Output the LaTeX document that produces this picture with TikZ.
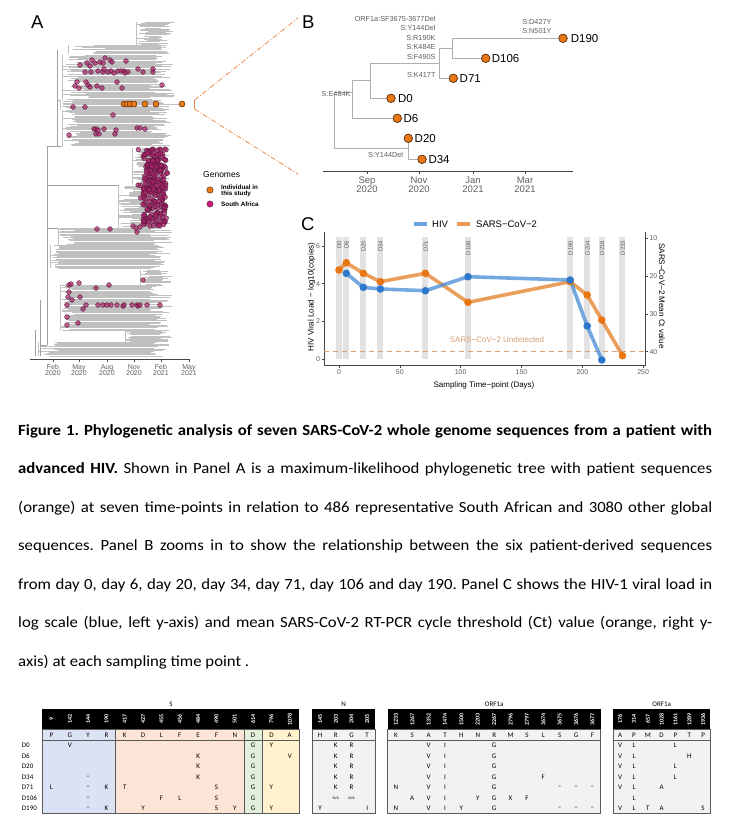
\documentclass[tikz,border=0pt]{standalone}
\usepackage{fontspec}
\setmainfont{Carlito}
\newfontfamily\arialf{Liberation Sans}
\newfontfamily\capfont[FakeStretch=1.08]{Carlito}
\usetikzlibrary{calc}
\definecolor{treegray}{RGB}{192,192,192}
\definecolor{backgray}{RGB}{160,160,160}
\definecolor{saf}{RGB}{165,35,105}
\definecolor{safdark}{RGB}{80,18,50}
\definecolor{pat}{RGB}{232,120,20}
\definecolor{patdark}{RGB}{95,50,15}
\definecolor{hivblue}{RGB}{70,140,215}
\definecolor{hivdot}{RGB}{45,120,205}
\definecolor{covor}{RGB}{228,128,40}
\definecolor{covdot}{RGB}{232,118,18}
\definecolor{undet}{RGB}{215,160,120}
\definecolor{bandgray}{RGB}{226,226,226}
\definecolor{sblue}{RGB}{219,226,243}
\definecolor{ssalmon}{RGB}{252,229,214}
\definecolor{sgreen}{RGB}{226,239,218}
\definecolor{syellow}{RGB}{255,242,204}
\definecolor{tgray}{RGB}{242,242,242}
\definecolor{axisgray}{RGB}{70,70,70}
\definecolor{labgray}{RGB}{95,95,95}
\definecolor{btreegray}{RGB}{175,175,175}
\definecolor{dashor}{RGB}{232,140,80}
\definecolor{tabline}{RGB}{90,90,90}

\newcommand{\treeblock}[6]{%
  \pgfmathtruncatemacro{\tbn}{(#2-#1)/1.15}%
  \foreach \tbi in {0,...,\tbn}{%
    \pgfmathsetmacro{\tby}{#1+\tbi*1.15}%
    \pgfmathsetmacro{\tbxs}{#3+(#4-#3)*rnd}%
    \pgfmathsetmacro{\tbxe}{#5+(#6-#5)*rnd}%
    \draw[treeline] (\tbxs,\tby) -- (\tbxe,\tby);
  }%
  \draw[treeline] (#3,#1) -- (#3,#2);%
}

\begin{document}
\frenchspacing
\begin{tikzpicture}[x=1pt,y=-1pt,
  treeline/.style={draw=treegray,line width=0.35pt},
  sadot/.style={circle,inner sep=0pt,minimum size=4.8pt,fill=saf,fill opacity=0.72,draw=safdark,draw opacity=0.85,line width=0.4pt},
  patdot/.style={circle,inner sep=0pt,minimum size=6pt,fill=pat,draw=patdark,line width=0.5pt},
  bdot/.style={circle,inner sep=0pt,minimum size=8.4pt,fill=pat,draw=patdark,line width=0.6pt},
  btree/.style={draw=btreegray,line width=0.9pt},
  mutlab/.style={font=\arialf\fontsize{7.3}{8}\selectfont,text=labgray,anchor=east,inner sep=0pt},
  dlab/.style={font=\arialf\fontsize{11.5}{12}\selectfont,anchor=west,inner sep=0pt},
  panel/.style={font=\arialf\fontsize{18.5}{19}\selectfont,anchor=base west,inner sep=0pt},
  ticklabA/.style={font=\arialf\fontsize{7}{7.2}\selectfont,text=labgray,align=center,inner sep=0pt},
  ticklabB/.style={font=\arialf\fontsize{9.5}{10}\selectfont,text=labgray,align=center,inner sep=0pt},
  ticklabC/.style={font=\arialf\fontsize{7}{8}\selectfont,text=labgray,inner sep=0pt},
  axlabC/.style={font=\arialf\fontsize{8}{9}\selectfont,inner sep=0pt},
  bandlab/.style={font=\arialf\fontsize{6}{7}\selectfont,text=labgray,rotate=90,anchor=east,inner sep=0pt},
  hivpt/.style={circle,inner sep=0pt,minimum size=7.6pt,fill=hivdot},
  covpt/.style={circle,inner sep=0pt,minimum size=7.6pt,fill=covdot},
  captxt/.style={anchor=base west,inner sep=0pt,font=\capfont\fontsize{15.5}{17}\selectfont},
  hdr/.style={font=\bfseries\fontsize{6}{6}\selectfont,text=white,rotate=90,inner sep=0pt},
  cell/.style={font=\fontsize{7}{8}\selectfont,inner sep=0pt},
  rowlab/.style={font=\fontsize{7}{8}\selectfont,anchor=west,inner sep=0pt},
  tabtitle/.style={font=\fontsize{7}{8}\selectfont,inner sep=0pt},
  tabborder/.style={draw=tabline,line width=0.8pt}
]
\useasboundingbox (0,0) rectangle (730,830);
\fill[white] (0,0) rectangle (730,830);

%%%%%%%%%%%%%%%% PANEL A
\node[panel] (pA) at (31,28.3) {A};
\pgfmathsetseed{11}
\treeblock{22}{45}{136}{150}{158}{175}
\treeblock{45}{54}{68}{110}{160}{172}
\treeblock{55}{100}{62}{90}{150}{175}
\treeblock{100}{110}{60}{75}{155}{172}
\treeblock{110}{146}{62}{80}{150}{172}
\treeblock{148}{185}{132}{145}{158}{170}
\treeblock{185}{228}{118}{140}{158}{170}
\treeblock{228}{245}{58}{75}{150}{172}
\treeblock{245}{268}{50}{60}{150}{170}
\treeblock{270}{285}{140}{150}{160}{172}
\treeblock{285}{330}{60}{75}{150}{172}
\treeblock{330}{342}{125}{132}{160}{172}
\treeblock{342}{356}{38}{60}{150}{170}
\draw[draw=backgray,line width=0.4pt] (57,50) -- (57,146) (47,146) -- (47,345) (40,300) -- (40,356) (35,330) -- (35,356)
  (47,146) -- (62,146) (47,228) -- (58,228) (47,185) -- (118,185) (57,100) -- (60,100) (40,345) -- (47,345);
\draw[draw=treegray,line width=0.5pt] (118,104) -- (182,104);

% South African dots
\foreach \dx/\dy [count=\k] in {80/65,87/63,90/66,92/60,95/63,100/62,105/58,110/60,112/62,126/61,103/63,85/72,91/72,98/71,103/72,104/69,108/72,111/71,114/73,118/71,121/71,124/71,125/73,128/72,138/69,143/72,153/69,153/72,
 77/82,75/86,79/88,86/82,88/85,90/87,97/86,102/88,117/82,122/88,162/85,
 73/107,85/107,113/115,
 94/129,96/129,98/130,104/129,116/130,137/128,140/128,145/129,69/135,96/134,99/134,115/134,
 97/229,110/229,133/226,136/228,140/227,137/232,145/224,150/226,158/224,165/222,
 69/285,71/284,79/283,96/288,109/285,143/280,69/292,68/297,72/300,80/297,67/305,86/305,83/309,98/305,103/305,107/305,111/305,117/305,123/306,124/305,132/305,137/305,138/306,140/305,147/305,160/305,67/317,78/323,67/325}
  {\node[sadot] (saS\k) at (\dx,\dy) {};}
\foreach \k in {1,...,200}{
  \pgfmathsetmacro{\mx}{143+23*rnd}
  \pgfmathsetmacro{\my}{149+77*rnd}
  \node[sadot] (saD\k) at (\mx,\my) {};
}
\foreach \k in {1,...,30}{
  \pgfmathsetmacro{\mx}{137+32*rnd}
  \pgfmathsetmacro{\my}{148+80*rnd}
  \node[sadot] (saE\k) at (\mx,\my) {};
}
% patient dots
\foreach \px [count=\k] in {124,127,130,134,145,156,182}
  {\node[patdot] (paA\k) at (\px,104) {};}
% axis A
\draw[draw=axisgray,line width=0.8pt] (30,359) -- (190,359);
\foreach \tx/\tl/\ty [count=\k] in {53/Feb/2020,79/May/2020,107/Aug/2020,134/Nov/2020,161/Feb/2021,189/May/2021}{
  \draw[draw=axisgray,line width=0.6pt] (\tx,359) -- (\tx,361.5);
  \node[ticklabA] (tA\k) at (\tx,370) {\tl\\[-1.2pt]\ty};
}
% legend A
\node[font=\arialf\fontsize{8.5}{9}\selectfont,anchor=west,inner sep=0pt] (legA) at (203,175) {Genomes};
\node[patdot,minimum size=6.4pt] (legO) at (210,190) {};
\node[font=\arialf\bfseries\fontsize{6.3}{7}\selectfont,anchor=west,inner sep=0pt,align=left] (legOt) at (221,190.5) {Individual in\\[-0.8pt]this study};
\node[sadot,minimum size=6.4pt,fill opacity=1,fill={rgb,255:red,200;green,30;blue,125}] (legM) at (210,204) {};
\node[font=\arialf\bfseries\fontsize{6.3}{7}\selectfont,anchor=west,inner sep=0pt] (legMt) at (221,204) {South Africa};
% zoom connectors
\coordinate (zA) at (194.5,100);
\coordinate (zB) at (194.5,109);
\coordinate (zC) at (298,18);
\coordinate (zD) at (298,174);
\draw[draw=dashor,line width=1.6pt] (zA) -- (zB);
\draw[draw=dashor,line width=0.8pt,dash pattern=on 5pt off 2pt on 1pt off 2pt] (zA) -- (zC);
\draw[draw=dashor,line width=0.8pt,dash pattern=on 5pt off 2pt on 1pt off 2pt] (zB) -- (zD);

%%%%%%%%%%%%%%%% PANEL B
\node[panel] (pB) at (302,28.3) {B};
\coordinate (rt) at (334.3,120);
\coordinate (n1) at (352.3,92.7);
\coordinate (n2) at (370.7,80);
\coordinate (n3) at (439.3,63.3);
\coordinate (n4) at (452.7,48.3);
\coordinate (n5) at (408.3,148.3);
\node[bdot] (D190) at (563,38.3) {};
\node[bdot] (D106) at (485.7,58.3) {};
\node[bdot] (D71) at (453.3,78.3) {};
\node[bdot] (D0) at (391,98.3) {};
\node[bdot] (D6) at (397.3,118.3) {};
\node[bdot] (D20) at (408.3,138.3) {};
\node[bdot] (D34) at (422,159.3) {};
\draw[btree] (rt) |- (n1) (rt) |- (n5)
  (n1) |- (n2) (n1) |- (D6)
  (n2) |- (n3) (n2) |- (D0)
  (n3) |- (n4) (n3) |- (D71)
  (n4) |- (D190) (n4) |- (D106)
  (n5) -- (D20) (n5) |- (D34);
\foreach \nd in {D190,D106,D71,D0,D6,D20,D34}{\node[bdot] at (\nd) {};}
\node[dlab] (lD190) at (570.7,38.8) {D190};
\node[dlab] (lD106) at (491.7,58.8) {D106};
\node[dlab] (lD71) at (459.5,78.8) {D71};
\node[dlab] (lD0) at (397.8,98.8) {D0};
\node[dlab] (lD6) at (403.3,118.8) {D6};
\node[dlab] (lD20) at (414.5,138.8) {D20};
\node[dlab] (lD34) at (428.3,159.8) {D34};
\node[mutlab] (m1) at (435.7,19) {ORF1a:SF3675-3677Del};
\node[mutlab] (m2) at (435.7,28.3) {S:Y144Del};
\node[mutlab] (m3) at (435.7,37.8) {S:R190K};
\node[mutlab] (m4) at (435.7,47.3) {S:K484E};
\node[mutlab] (m5) at (435.7,56.7) {S:F490S};
\node[mutlab] (m6) at (435.7,75) {S:K417T};
\node[mutlab] (m7) at (350.7,94.3) {S:E484K};
\node[mutlab] (m8) at (551.7,21.7) {S:D427Y};
\node[mutlab] (m9) at (551.7,31) {S:N501Y};
\node[mutlab] (m10) at (403.3,155.3) {S:Y144Del};
\draw[draw=axisgray,line width=1pt] (323,171) -- (573,171);
\foreach \tx/\tl/\ty [count=\k] in {367/Sep/2020,419/Nov/2020,473/Jan/2021,525/Mar/2021}{
  \draw[draw=axisgray,line width=0.8pt] (\tx,171) -- (\tx,174);
  \node[ticklabB] (tB\k) at (\tx,185) {\tl\\[-1pt]\ty};
}

%%%%%%%%%%%%%%%% PANEL C
\node[panel] (pC) at (301,230) {C};
\draw[draw=hivblue,line width=3.8pt,opacity=0.8] (414,224) -- (427,224);
\node[font=\arialf\fontsize{9.5}{10}\selectfont,anchor=west,inner sep=0pt] (legH) at (432,224) {HIV};
\draw[draw=covor,line width=3.8pt,opacity=0.8] (456.7,224) -- (470,224);
\node[font=\arialf\fontsize{9.5}{10}\selectfont,anchor=west,inner sep=0pt] (legS) at (476,224) {SARS−CoV−2};
% bands
\foreach \dd/\dl [count=\k] in {0/D0,6/D6,20/D20,34/D34,71/D71,106/D106,190/D190,204/D204,216/D216,233/D233}{
  \fill[bandgray] ({339+1.2167*\dd-3},236.7) rectangle ({339+1.2167*\dd+3},359);
  \node[bandlab] (bl\k) at ({339+1.2167*\dd+0.3},240.5) {\dl};
}
% axes
\draw[draw=axisgray,line width=0.7pt] (324.3,231.7) -- (324.3,365) -- (645,365) -- (645,231.7);
\foreach \v/\yy in {0/359,2/321.3,4/283.7,6/246}{
  \draw[draw=axisgray,line width=0.6pt] (321.8,\yy) -- (324.3,\yy);
  \node[ticklabC,anchor=east] (yl\v) at (320.2,\yy) {\v};
}
\foreach \v/\yy in {10/238.3,20/276.1,30/313.9,40/351.7}{
  \draw[draw=axisgray,line width=0.6pt] (645,\yy) -- (647.5,\yy);
  \node[ticklabC,anchor=west] (yr\v) at (649.3,\yy) {\v};
}
\foreach \v in {0,50,100,150,200,250}{
  \draw[draw=axisgray,line width=0.6pt] ({339+1.2167*\v},365) -- ({339+1.2167*\v},367.5);
  \node[ticklabC] (xl\v) at ({339+1.2167*\v},372.5) {\v};
}
\node[axlabC] (xlab) at (484,385) {Sampling Time−point (Days)};
\node[axlabC,rotate=90] (ylabL) at (311.5,297) {HIV Viral Load − log10(copies)};
\node[axlabC,rotate=-90] (ylabR) at (662,296) {SARS−CoV−2 Mean Ct value};
% undetected
\coordinate (u1) at (324.3,351.3);
\coordinate (u2) at (645,351.3);
\draw[draw=undet,line width=0.8pt,dash pattern=on 5pt off 4pt] (u1) -- (u2);
\node[font=\arialf\fontsize{8}{9}\selectfont,text=undet,inner sep=0pt] (undl) at (497,340) {SARS−CoV−2 Undetected};
% data
\coordinate (h1) at (346.3,273.3);
\coordinate (h2) at (363.3,287.3);
\coordinate (h3) at (380.4,289);
\coordinate (h4) at (425.4,290.7);
\coordinate (h5) at (468,276.7);
\coordinate (h6) at (570.2,280);
\coordinate (h7) at (587.2,326);
\coordinate (h8) at (601.8,360);
\coordinate (c1) at (339,270);
\coordinate (c2) at (346.3,262.7);
\coordinate (c3) at (363.3,273.3);
\coordinate (c4) at (380.4,281.7);
\coordinate (c5) at (425.4,273.3);
\coordinate (c6) at (468,302.3);
\coordinate (c7) at (570.2,281.7);
\coordinate (c8) at (587.2,295);
\coordinate (c9) at (601.8,320);
\coordinate (c10) at (622.5,355.7);
\draw[draw=covor,line width=3.6pt,opacity=0.75,line join=round] (c1) -- (c2) -- (c3) -- (c4) -- (c5) -- (c6) -- (c7) -- (c8) -- (c9) -- (c10);
\draw[draw=hivblue,line width=3.6pt,opacity=0.75,line join=round] (h1) -- (h2) -- (h3) -- (h4) -- (h5) -- (h6) -- (h7) -- (h8);
\foreach \k in {1,...,10}{\node[covpt] (cp\k) at (c\k) {};}
\foreach \k in {1,...,8}{\node[hivpt] (hp\k) at (h\k) {};}

%%%%%%%%%%%%%%%% CAPTION
\node[captxt] (cap1) at (18,435) {\makebox[694pt][s]{\bfseries Figure 1. Phylogenetic analysis of seven SARS-CoV-2 whole genome sequences from a patient with}};
\node[captxt] (cap2) at (18,473.5) {\makebox[694pt][s]{\textbf{advanced HIV.} Shown in Panel A is a maximum-likelihood phylogenetic tree with patient sequences}};
\node[captxt] (cap3) at (18,512) {\makebox[694pt][s]{(orange) at seven time-points in relation to 486 representative South African and 3080 other global}};
\node[captxt] (cap4) at (18,550.5) {\makebox[694pt][s]{sequences. Panel B zooms in to show the relationship between the six patient-derived sequences}};
\node[captxt] (cap5) at (18,589) {\makebox[694pt][s]{from day 0, day 6, day 20, day 34, day 71, day 106 and day 190. Panel C shows the HIV-1 viral load in}};
\node[captxt] (cap6) at (18,627.5) {\makebox[694pt][s]{log scale (blue, left y-axis) and mean SARS-CoV-2 RT-PCR cycle threshold (Ct) value (orange, right y-}};
\node[captxt] (cap7) at (18,666) {axis) at each sampling time point .};

%%%%%%%%%%%%%%%% TABLE
\fill[sblue] (42.3,729.3) rectangle (115.6,813.3);
\fill[ssalmon] (115.6,729.3) rectangle (243.9,813.3);
\fill[sgreen] (243.9,729.3) rectangle (262.3,813.3);
\fill[syellow] (262.3,729.3) rectangle (298.9,813.3);
\fill[tgray] (312.3,729.3) rectangle (375,813.3);
\fill[tgray] (387.7,729.3) rectangle (600.7,813.3);
\fill[tgray] (613.3,729.3) rectangle (710,813.3);
\fill[black] (42.3,709.3) rectangle (298.9,729.3);
\fill[black] (312.3,709.3) rectangle (375,729.3);
\fill[black] (387.7,709.3) rectangle (600.7,729.3);
\fill[black] (613.3,709.3) rectangle (710,729.3);
\draw[tabborder] (42.3,729.3) rectangle (298.9,813.3);
\draw[tabborder] (115.6,729.3) -- (115.6,813.3) (243.9,729.3) -- (243.9,813.3) (262.3,729.3) -- (262.3,813.3);
\draw[tabborder] (312.3,729.3) rectangle (375,813.3);
\draw[tabborder] (387.7,729.3) rectangle (600.7,813.3);
\draw[tabborder] (613.3,729.3) rectangle (710,813.3);
\draw[tabborder] (42.3,740.5) -- (298.9,740.5) (312.3,740.5) -- (375,740.5) (387.7,740.5) -- (600.7,740.5) (613.3,740.5) -- (710,740.5);
\node[tabtitle] (tS) at (171,704) {S};
\node[tabtitle] (tN) at (343.7,704) {N};
\node[tabtitle] (tO1) at (494.2,704) {ORF1a};
\node[tabtitle] (tO2) at (661.7,704) {ORF1a};
\foreach \hn [count=\hc from 0] in {9,142,144,190,417,427,455,456,484,490,501,614,796,1078}
  {\node[hdr] (hS\hc) at ({42.3+(\hc+0.5)*18.33},719.3) {\hn};}
\foreach \hn [count=\hc from 0] in {145,203,204,205}
  {\node[hdr] (hN\hc) at ({312.3+(\hc+0.5)*15.67},719.3) {\hn};}
\foreach \hn [count=\hc from 0] in {1233,1267,1352,1474,1500,2203,2267,2796,2797,3674,3675,3676,3677}
  {\node[hdr] (hA\hc) at ({387.7+(\hc+0.5)*16.38},719.3) {\hn};}
\foreach \hn [count=\hc from 0] in {176,314,657,1028,1161,1289,1936}
  {\node[hdr] (hB\hc) at ({613.3+(\hc+0.5)*13.81},719.3) {\hn};}
\foreach \rl [count=\hc from 0] in {P,G,Y,R,K,D,L,F,E,F,N,D,D,A}
  {\node[cell] (rS\hc) at ({42.3+(\hc+0.5)*18.33},735) {\rl};}
\foreach \rl [count=\hc from 0] in {H,R,G,T}
  {\node[cell] (rN\hc) at ({312.3+(\hc+0.5)*15.67},735) {\rl};}
\foreach \rl [count=\hc from 0] in {K,S,A,T,H,N,R,M,S,L,S,G,F}
  {\node[cell] (rA\hc) at ({387.7+(\hc+0.5)*16.38},735) {\rl};}
\foreach \rl [count=\hc from 0] in {A,P,M,D,P,T,P}
  {\node[cell] (rB\hc) at ({613.3+(\hc+0.5)*13.81},735) {\rl};}
\foreach \rn [count=\r from 0] in {D0,D6,D20,D34,D71,D106,D190}
  {\node[rowlab] (row\r) at (21.7,{745.7+\r*10.5}) {\rn};}
\foreach \r/\c/\t [count=\k] in {0/1/V,0/11/G,0/12/Y,
  1/8/K,1/11/G,1/13/V,
  2/8/K,2/11/G,
  3/2/–,3/8/K,3/11/G,
  4/0/L,4/2/–,4/3/K,4/4/T,4/9/S,4/11/G,4/12/Y,
  5/2/–,5/6/F,5/7/L,5/9/S,5/11/G,
  6/2/–,6/3/K,6/5/Y,6/9/S,6/10/Y,6/11/G,6/12/Y}
  {\node[cell] (cS\k) at ({42.3+(\c+0.5)*18.33},{745.7+\r*10.5}) {\t};}
\foreach \r/\c/\t [count=\k] in {0/1/K,0/2/R,1/1/K,1/2/R,2/1/K,2/2/R,3/1/K,3/2/R,4/1/K,4/2/R,6/0/Y,6/3/I}
  {\node[cell] (cN\k) at ({312.3+(\c+0.5)*15.67},{745.7+\r*10.5}) {\t};}
\node[cell,font=\fontsize{4}{4}\selectfont] (cNa1) at ({312.3+1.5*15.67},{745.7+5*10.5}) {N/A};
\node[cell,font=\fontsize{4}{4}\selectfont] (cNa2) at ({312.3+2.5*15.67},{745.7+5*10.5}) {N/A};
\foreach \r/\c/\t [count=\k] in {0/2/V,0/3/I,0/6/G,
  1/2/V,1/3/I,1/6/G,
  2/2/V,2/3/I,2/6/G,
  3/2/V,3/3/I,3/6/G,3/9/F,
  4/0/N,4/2/V,4/3/I,4/6/G,4/10/–,4/11/–,4/12/–,
  5/1/A,5/2/V,5/3/I,5/5/Y,5/6/G,5/7/X,5/8/F,
  6/0/N,6/2/V,6/3/I,6/4/Y,6/6/G,6/10/–,6/11/–,6/12/–}
  {\node[cell] (cA\k) at ({387.7+(\c+0.5)*16.38},{745.7+\r*10.5}) {\t};}
\foreach \r/\c/\t [count=\k] in {0/0/V,0/1/L,0/4/L,
  1/0/V,1/1/L,1/5/H,
  2/0/V,2/1/L,2/4/L,
  3/0/V,3/1/L,3/4/L,
  4/0/V,4/1/L,4/3/A,
  5/1/L,
  6/0/V,6/1/L,6/2/T,6/3/A,6/6/S}
  {\node[cell] (cB\k) at ({613.3+(\c+0.5)*13.81},{745.7+\r*10.5}) {\t};}
\end{tikzpicture}
\end{document}
